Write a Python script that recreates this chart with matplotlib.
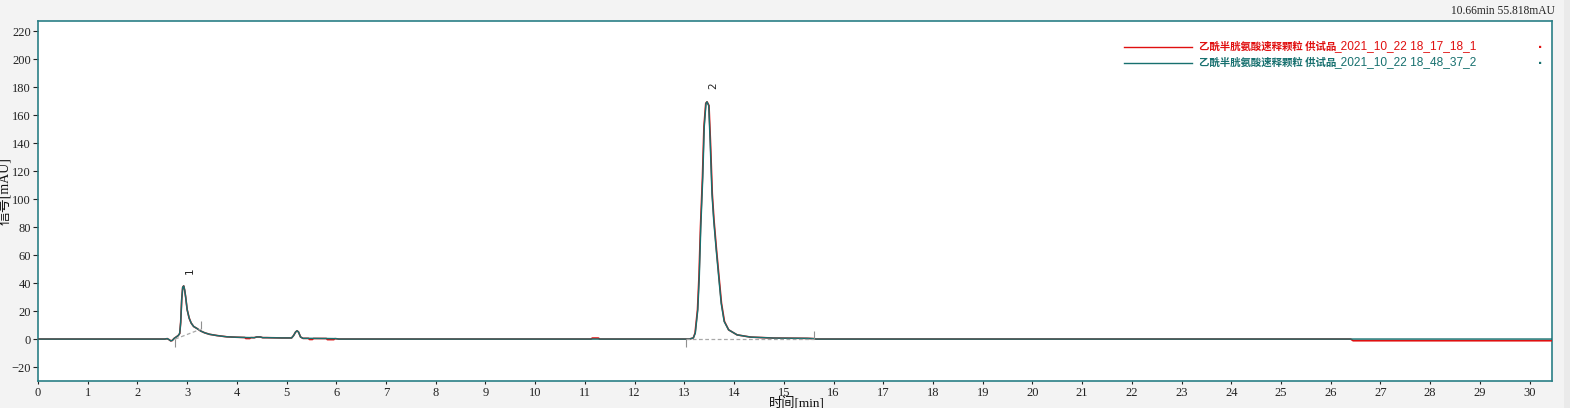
import matplotlib
matplotlib.use("Agg")
import matplotlib.pyplot as plt
from matplotlib.patches import Rectangle

# ---------------- data ----------------
teal_time = [0.0, 2.55, 2.60, 2.64, 2.67, 2.70, 2.74, 2.78, 2.82, 2.85, 2.87, 2.89, 2.91,
             2.93, 2.95, 2.97, 3.00, 3.04, 3.08, 3.13, 3.20, 3.27, 3.35, 3.45, 3.60, 3.80,
             4.00, 4.20, 4.35, 4.40, 4.47, 4.52, 4.60, 4.90, 5.10, 5.14, 5.18, 5.21, 5.24,
             5.28, 5.33, 5.50, 5.80, 6.00, 6.05,
             13.10, 13.18, 13.22, 13.27, 13.30, 13.33, 13.37, 13.40, 13.435, 13.455, 13.49,
             13.52, 13.555, 13.59, 13.64, 13.69, 13.74, 13.80, 13.89, 14.06, 14.33, 14.80,
             15.47, 15.60, 15.65, 30.45]
teal_signal = [0.0, 0.0, 0.3, -0.5, -1.3, -1.0, 0.5, 1.5, 2.5, 4.0, 12.0, 28.0, 37.0,
               38.0, 35.0, 30.0, 21.0, 15.0, 11.5, 9.0, 7.5, 5.8, 4.5, 3.4, 2.5, 1.6,
               1.3, 1.1, 1.0, 1.5, 1.5, 1.0, 1.0, 0.8, 0.8, 2.5, 5.0, 5.9, 5.0,
               1.5, 0.5, 0.5, 0.4, 0.3, 0.0,
               0.0, 0.8, 4.3, 21.0, 44.7, 80.0, 116.0, 152.0, 168.6, 169.7, 167.0,
               140.0, 104.0, 85.0, 64.0, 44.7, 25.7, 12.6, 6.6, 3.0, 1.4, 0.7,
               0.5, 0.3, 0.0, 0.0]

red_time = [0.0, 2.55, 2.60, 2.64, 2.67, 2.70, 2.74, 2.78, 2.82, 2.85, 2.87, 2.89, 2.91,
            2.93, 2.95, 2.97, 3.00, 3.04, 3.08, 3.13, 3.20, 3.27, 3.35, 3.45, 3.60, 3.80,
            4.00, 4.16, 4.18, 4.26, 4.28, 4.35, 4.40, 4.47, 4.52, 4.60, 4.90, 5.10, 5.14,
            5.18, 5.21, 5.24, 5.28, 5.33, 5.44, 5.46, 5.52, 5.54, 5.80, 5.82, 5.95, 5.97,
            6.05, 11.12, 11.15, 11.27, 11.30,
            13.10, 13.18, 13.215, 13.264, 13.294, 13.324, 13.364, 13.394, 13.43, 13.455,
            13.495, 13.526, 13.561, 13.596, 13.646, 13.696, 13.746, 13.806, 13.89, 14.06,
            14.33, 14.80, 15.47, 15.60, 15.65, 26.40, 26.45, 30.45]
red_signal = [0.0, 0.0, 0.3, -0.5, -1.3, -1.0, 0.5, 1.5, 2.5, 4.0, 12.0, 28.0, 37.0,
              38.0, 35.0, 30.0, 21.0, 15.0, 11.5, 9.0, 7.5, 5.8, 4.5, 3.4, 2.5, 1.6,
              1.3, 1.1, 0.4, 0.4, 1.0, 1.0, 1.5, 1.5, 1.0, 1.0, 0.8, 0.8, 2.5,
              5.0, 5.9, 5.0, 1.5, 0.5, 0.5, -0.3, -0.3, 0.4, 0.4, -0.4, -0.4, 0.3,
              0.0, 0.0, 0.7, 0.7, 0.0,
              0.0, 0.8, 4.3, 21.0, 44.7, 80.0, 116.0, 152.0, 168.6, 169.7,
              167.0, 140.0, 104.0, 85.0, 64.0, 44.7, 25.7, 12.6, 6.6, 3.0,
              1.4, 0.7, 0.5, 0.3, 0.0, 0.0, -1.2, -1.2]

baseline1_time = [2.76, 3.27]
baseline1_signal = [0.0, 7.0]
baseline2_time = [13.04, 15.60]
baseline2_signal = [0.0, 0.0]

peak_labels = ["1", "2"]
peak_label_time = [3.06, 13.58]
peak_label_signal = [49.0, 181.0]

x_ticks = list(range(0, 31))
y_ticks = list(range(-20, 221, 20))

legend_names = ["乙酰半胱氨酸速释颗粒 供试品", "乙酰半胱氨酸速释颗粒 供试品"]
legend_suffix = ["_2021_10_22 18_17_18_1", "_2021_10_22 18_48_37_2"]
cursor_text = "10.66min 55.818mAU"

# ---------------- styling ----------------
W, H = 1570, 408
RED = "#e01010"
TEAL = "#17706f"
SPINE = "#2a7f86"
SERIF = ["Liberation Serif", "Noto Sans CJK SC"]

fig = plt.figure(figsize=(W / 100, H / 100), dpi=100, facecolor="#f3f3f3")
fig.patches.append(Rectangle((1564 / W, 0), 6 / W, 1, transform=fig.transFigure,
                             facecolor="#eaeaea", edgecolor="none", zorder=0))

def fx(px):
    return px / W

def fy(py):
    return 1 - py / H

ax = fig.add_axes([fx(38), fy(381), (1552 - 38) / W, (381 - 21) / H])
ax.set_facecolor("white")
ax.set_xlim(0, 30.45)
ax.set_ylim(-30, 227.5)

ax.plot(red_time, red_signal, color=RED, lw=1.2, zorder=3)
ax.plot(teal_time, teal_signal, color=TEAL, lw=1.05, zorder=4)

for bt, bs in ((baseline1_time, baseline1_signal), (baseline2_time, baseline2_signal)):
    ax.plot(bt, bs, color="#a8a8a8", lw=0.9, ls=(0, (3, 2)), zorder=5)
    ax.plot([bt[0]], [bs[0]], marker=3, ms=6, mew=0.8, color="#909090", zorder=5)
    ax.plot([bt[1]], [bs[1]], marker=2, ms=6, mew=0.8, color="#909090", zorder=5)

for lab, t, s in zip(peak_labels, peak_label_time, peak_label_signal):
    ax.text(t, s, lab, rotation=90, ha="center", va="center", fontsize=7.5,
            family="DejaVu Sans", color="#222222")

for sp in ax.spines.values():
    sp.set_color(SPINE)
    sp.set_linewidth(1.2)

ax.set_xticks(x_ticks)
ax.set_yticks(y_ticks)
ax.tick_params(axis="both", direction="out", color="#222222", labelcolor="#222222",
               labelsize=9, width=0.8)
ax.tick_params(axis="y", length=3.5, pad=1.5)
ax.tick_params(axis="x", length=2.5, pad=2)
for lbl in ax.get_xticklabels() + ax.get_yticklabels():
    lbl.set_family("Liberation Serif")

ax.set_xlabel("时间[min]", family=SERIF, fontsize=9.5, color="#111111", labelpad=0)
ax.xaxis.set_label_coords(0.5013, -0.045)
ax.xaxis.label.set_va("top")
fig.text(fx(4), fy(191), "信号[mAU]", rotation=90, ha="center", va="center",
         family=SERIF, fontsize=10, color="#111111")

# legend drawn by hand
leg_y = [47, 63]
for i, col in enumerate([RED, TEAL]):
    fig.add_artist(plt.Line2D([fx(1124), fx(1192)], [fy(leg_y[i]), fy(leg_y[i])],
                              color=col, lw=1.0, transform=fig.transFigure))
    fig.text(fx(1199), fy(leg_y[i]), legend_names[i], color=col, fontsize=7.5,
             family="Noto Sans CJK SC", weight="bold", ha="left", va="center")
    fig.text(fx(1334), fy(leg_y[i] - 0.5), legend_suffix[i], color=col, fontsize=8.6,
             family="Liberation Sans", ha="left", va="center")
    fig.text(fx(1540), fy(leg_y[i] - 3), ".", color=col, fontsize=11, weight="bold",
             family="Liberation Sans", ha="center", va="center")

fig.text(fx(1555), fy(11), cursor_text, ha="right", va="center", fontsize=8.3,
         family="Liberation Serif", color="#222222")

fig.savefig("out.png", dpi=100, facecolor=fig.get_facecolor())
